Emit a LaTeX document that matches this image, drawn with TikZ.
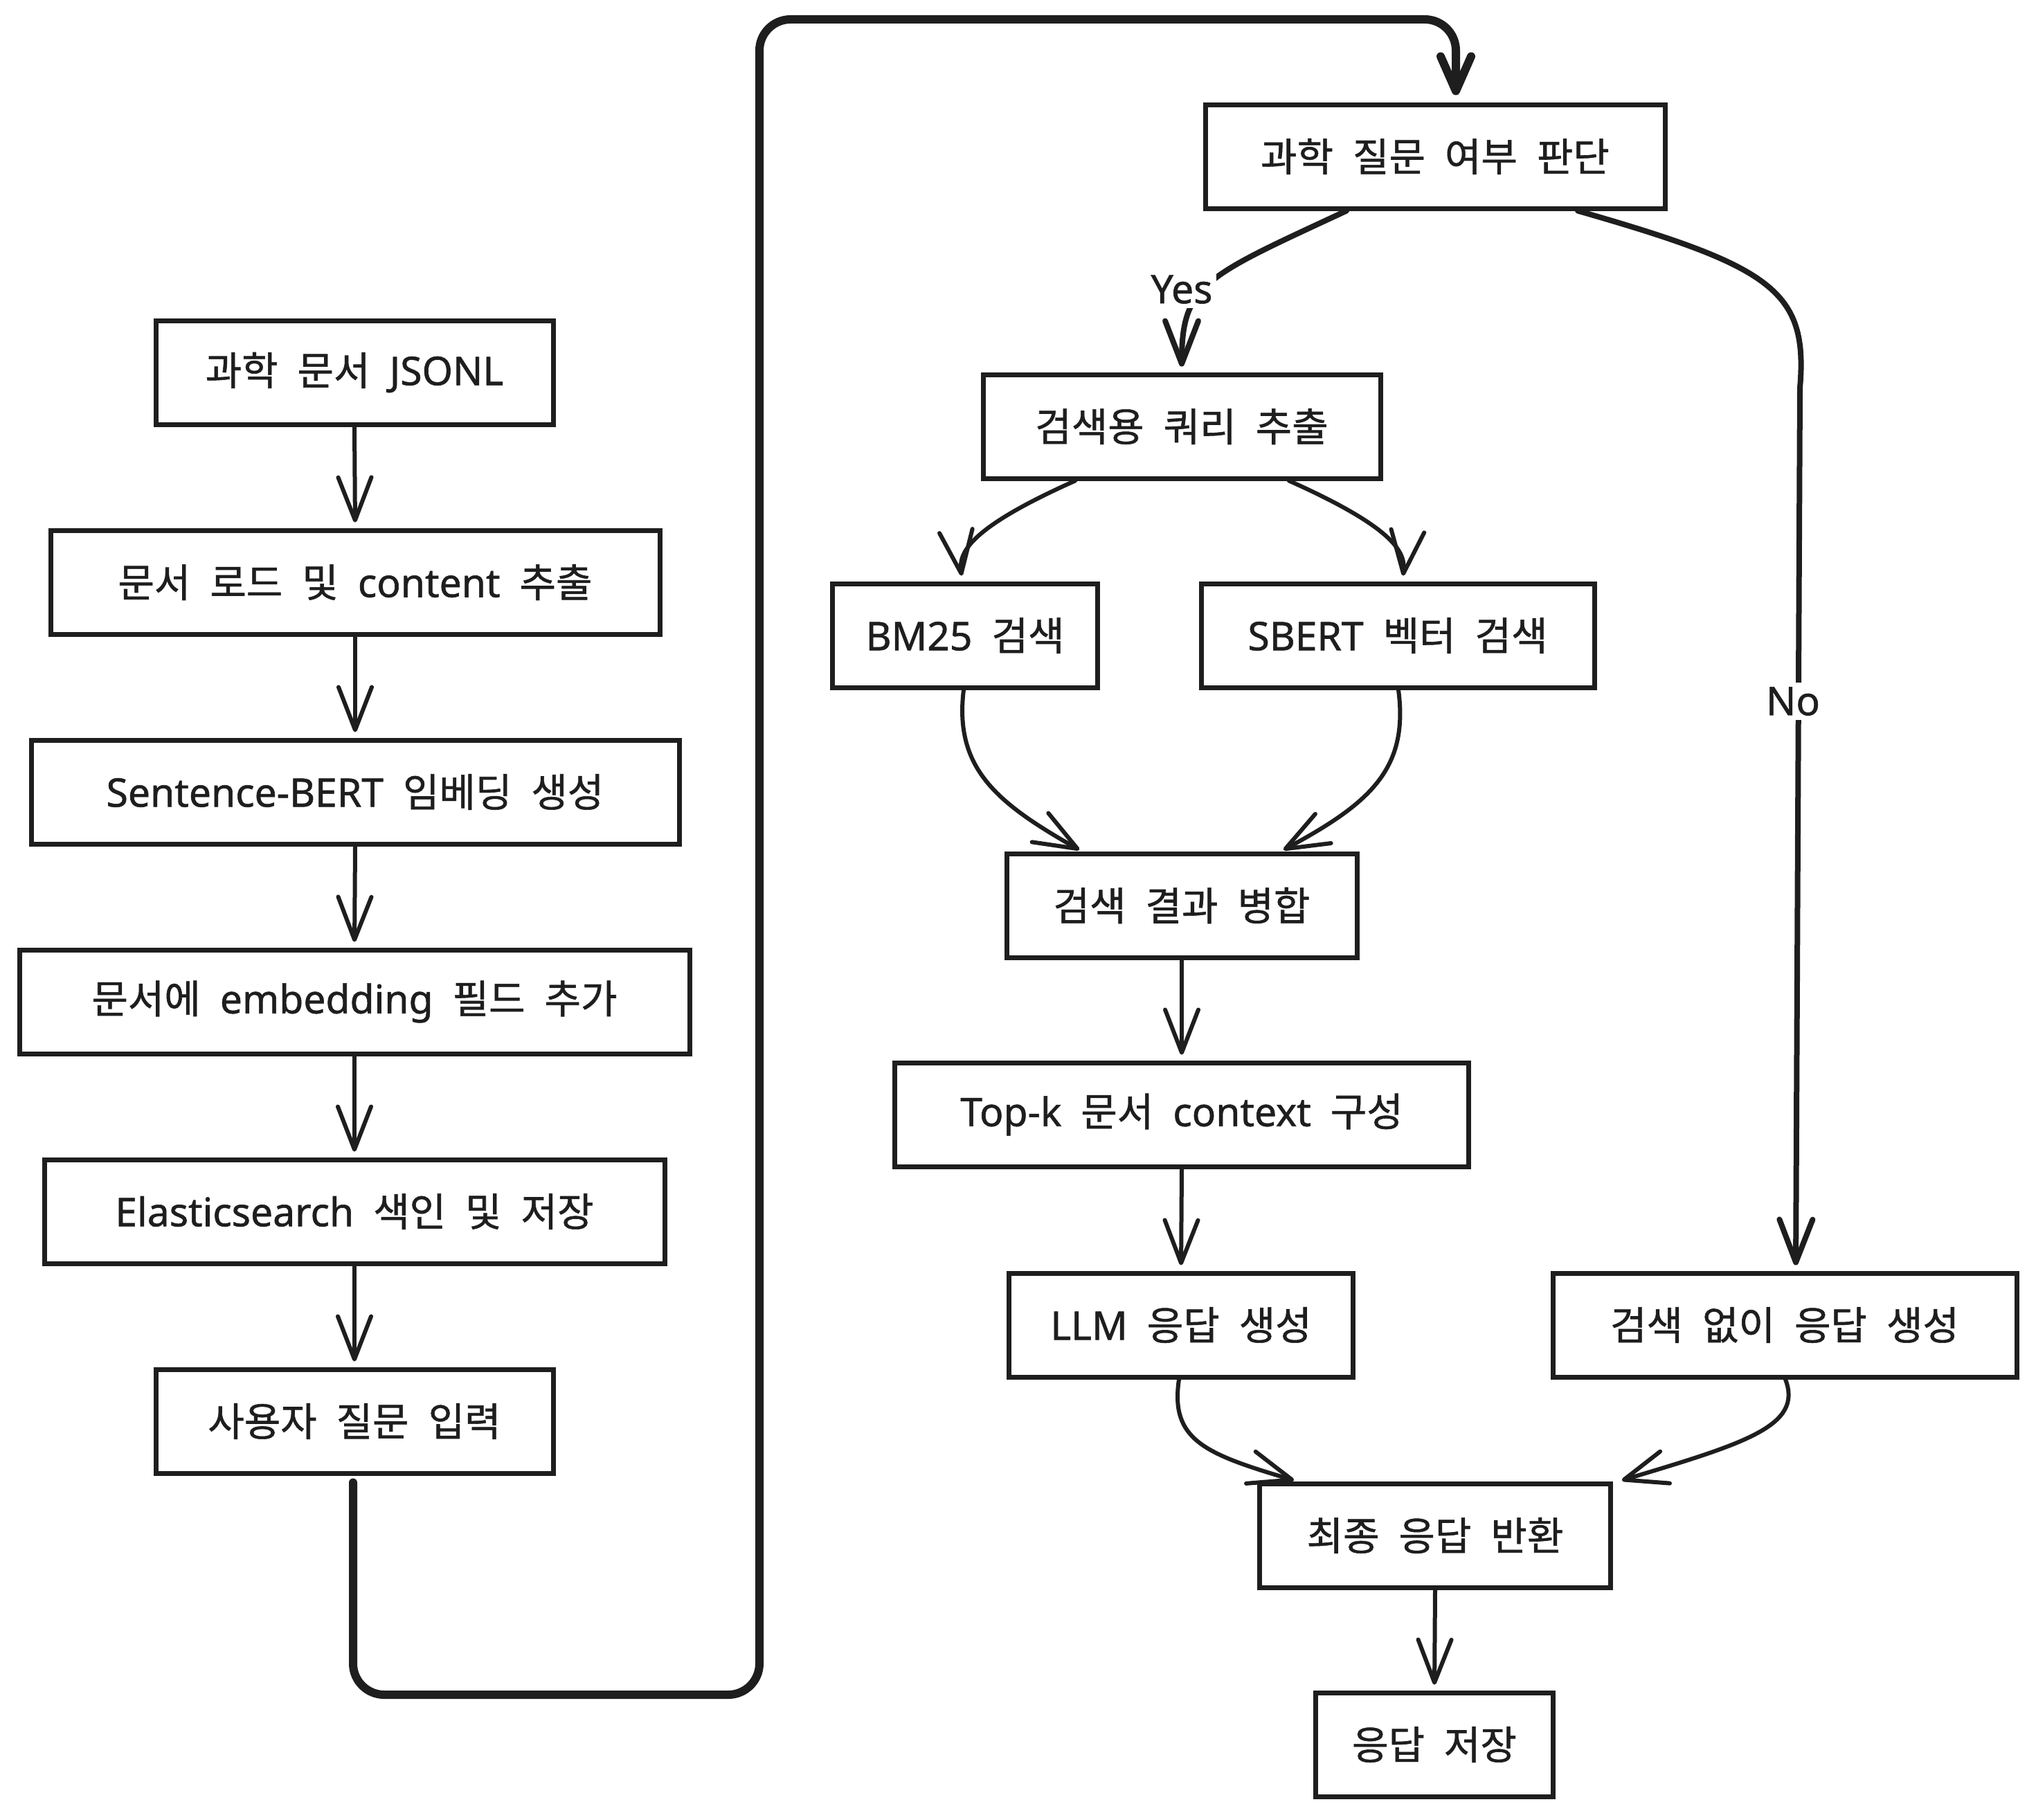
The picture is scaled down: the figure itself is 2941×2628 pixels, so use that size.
\documentclass[tikz,border=0pt]{standalone}
\usepackage{fontspec}
\setmainfont{Noto Sans CJK KR}[WordSpace=2.2, FakeBold=1]
\newfontfamily\latfont{Noto Sans}[WordSpace=2.2, FakeBold=1]
\usetikzlibrary{arrows.meta,calc}
\definecolor{ink}{HTML}{1E1E1E}
\newcommand\boxfont{\fontsize{57}{64}\selectfont}
\newcommand\lt[1]{{\latfont #1}}
\begin{document}
\begin{tikzpicture}[x=1pt,y=-1pt,
  flowbox/.style={draw=ink, line width=7pt, fill=white, inner sep=0pt,
    minimum height=150pt, font=\boxfont, text=ink},
  conn/.style={draw=ink, line width=6pt, line cap=round, line join=round,
    -{Straight Barb[length=62pt,width=48pt,round]}, shorten >=8pt},
  boldconn/.style={conn, line width=8pt},
  loopconn/.style={draw=ink, line width=12pt, line cap=round, line join=round,
    rounded corners=45pt, -{Straight Barb[length=50pt,width=44pt,round]}},
  edgelabel/.style={fill=white, inner sep=6pt, font=\boxfont\latfont, text=ink}]
\useasboundingbox (0,0) rectangle (2941,2628);
\fill[white] (0,0) rectangle (2941,2628);

% left column
\node[flowbox, minimum width=574pt] (n1) at (512,538) {과학 문서 \lt{JSONL}};
\node[flowbox, minimum width=880pt] (n2) at (513,841) {문서 로드 및 \lt{content} 추출};
\node[flowbox, minimum width=936pt] (n3) at (513,1144) {\lt{Sentence-BERT} 임베딩 생성};
\node[flowbox, minimum width=968pt] (n4) at (512,1447) {문서에 \lt{embedding} 필드 추가};
\node[flowbox, minimum width=896pt] (n5) at (512,1750) {\lt{Elasticsearch} 색인 및 저장};
\node[flowbox, minimum width=574pt] (n6) at (512,2053) {사용자 질문 입력};

% right side
\node[flowbox, minimum width=664pt] (n7) at (2073,226) {과학 질문 여부 판단};
\node[flowbox, minimum width=574pt] (n8) at (1707,616) {검색용 쿼리 추출};
\node[flowbox, minimum width=383pt] (n9) at (1394,918) {\lt{BM25} 검색};
\node[flowbox, minimum width=568pt] (n10) at (2019,918) {\lt{SBERT} 벡터 검색};
\node[flowbox, minimum width=506pt] (n11) at (1707,1308) {검색 결과 병합};
\node[flowbox, minimum width=829pt] (n12) at (1707,1610) {\lt{Top-k} 문서 \lt{context} 구성};
\node[flowbox, minimum width=497pt] (n13) at (1706,1914) {\lt{LLM} 응답 생성};
\node[flowbox, minimum width=670pt] (n14) at (2578,1914) {검색 없이 응답 생성};
\node[flowbox, minimum width=507pt] (n15) at (2073,2218) {최종 응답 반환};
\node[flowbox, minimum width=343pt] (n16) at (2072,2520) {응답 저장};

% left column connectors
\draw[conn] (n1.south) -- (n2.north);
\draw[conn] (n2.south) -- (n3.north);
\draw[conn] (n3.south) -- (n4.north);
\draw[conn] (n4.south) -- (n5.north);
\draw[conn] (n5.south) -- (n6.north);

% loop to decision
\coordinate (loopend) at ($(n7.north)+(30,-10)$);
\draw[loopconn] ($(n6.south)+(-2,10)$) -- (510,2448) -- (1097,2448) -- (1097,28) -- (2103,28) -- (loopend);

% decision branches
\draw[boldconn] ($(n7.south)+(-128,0)$) .. controls (1740,400) and (1707,410) .. (n8.north);
\node[edgelabel] (yes) at (1707,418) {Yes};
\coordinate (noend) at ($(n14.north)+(16,0)$);
\draw[boldconn] ($(n7.south)+(206,0)$) .. controls (2560,385) and (2612,420) .. (2600,560) -- (noend);
\node[edgelabel] (no) at (2590,1013) {No};

% search split
\draw[conn] ($(n8.south)+(-154,0)$) .. controls (1395,765) and (1385,800) .. ($(n9.north)+(-4,0)$);
\draw[conn] ($(n8.south)+(155,0)$) .. controls (2020,765) and (2030,800) .. ($(n10.north)+(7,0)$);

% merge
\draw[conn, shorten >=4pt] ($(n9.south)+(-2,0)$) .. controls (1378,1110) and (1440,1160) .. ($(n11.north west)+(112,0)$);
\draw[conn, shorten >=4pt] ($(n10.south)+(1,0)$) .. controls (2035,1110) and (1980,1160) .. ($(n11.north east)+(-113,0)$);

\draw[conn] (n11.south) -- (n12.north);
\draw[conn] (n12.south) -- (n13.north);

% final
\draw[conn, shorten >=4pt] ($(n13.south)+(-3,0)$) .. controls (1690,2080) and (1740,2100) .. ($(n15.north west)+(57,0)$);
\draw[conn, shorten >=4pt] ($(n14.south)+(1,0)$) .. controls (2605,2060) and (2520,2085) .. ($(n15.north east)+(9,0)$);
\draw[conn] (n15.south) -- (n16.north);
\end{tikzpicture}
\end{document}
